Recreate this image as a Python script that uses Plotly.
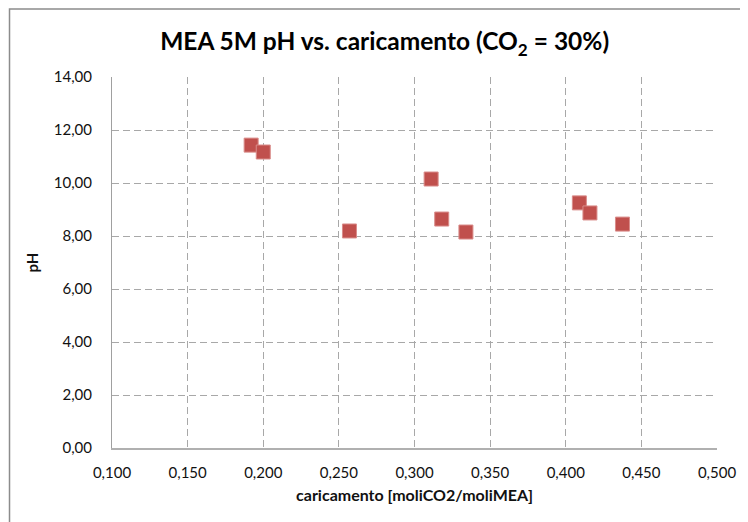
import plotly.graph_objects as go

# Data
caricamento = [0.192, 0.200, 0.257, 0.311, 0.318, 0.334, 0.409, 0.416, 0.4375]
ph = [11.43, 11.17, 8.19, 10.15, 8.64, 8.15, 9.25, 8.87, 8.45]

x_ticks = [0.10, 0.15, 0.20, 0.25, 0.30, 0.35, 0.40, 0.45, 0.50]
y_ticks = [0, 2, 4, 6, 8, 10, 12, 14]

font_main = "Lato, Liberation Sans, Arial, sans-serif"

fig = go.Figure()
fig.add_trace(go.Scatter(
    x=caricamento, y=ph, mode="markers",
    marker=dict(symbol="square", size=14, color="#C0504D",
                line=dict(color="#D98C8A", width=1)),
    showlegend=False,
))

# page body has an 8px margin, so the figure is a bit smaller than the window
fig.update_layout(
    width=740, height=514,
    margin=dict(l=104, r=28, t=69, b=74),
    paper_bgcolor="white", plot_bgcolor="white",
    separators=",.",
    font=dict(family=font_main, size=15, color="#111111"),
    title=dict(text="<b>MEA 5M pH vs. caricamento (CO<sub>2</sub> = 30%)</b>",
               x=0.509, xref="container", xanchor="center",
               y=0.934, yref="container", yanchor="middle",
               font=dict(family=font_main, size=24.5, color="black")),
    xaxis=dict(range=[0.1, 0.5], tickvals=x_ticks, tickformat=".3f",
               showgrid=True, gridcolor="#A8A8A8", griddash="7px,4px", gridwidth=1,
               showline=True, linecolor="#B0B0B0", linewidth=2,
               zeroline=False, ticks="", ticklabelstandoff=10,
               title=dict(text="<b>caricamento [moliCO2/moliMEA]</b>", standoff=10,
                          font=dict(size=16))),
    yaxis=dict(range=[0, 14], tickvals=y_ticks, tickformat=".2f",
               showgrid=True, gridcolor="#A8A8A8", griddash="7px,4px", gridwidth=1,
               showline=True, linecolor="#A0A0A0", linewidth=1,
               zeroline=False, ticks="", ticklabelstandoff=16,
               title=dict(text="<b>pH</b>", standoff=11, font=dict(size=15))),
)

# outer chart border
fig.add_shape(type="rect", xref="paper", yref="paper",
              x0=-0.1694, y0=-0.4, x1=1.2, y1=1.1833,
              line=dict(color="#8C8C8C", width=1.5), layer="below")

fig.write_html("out.html")
